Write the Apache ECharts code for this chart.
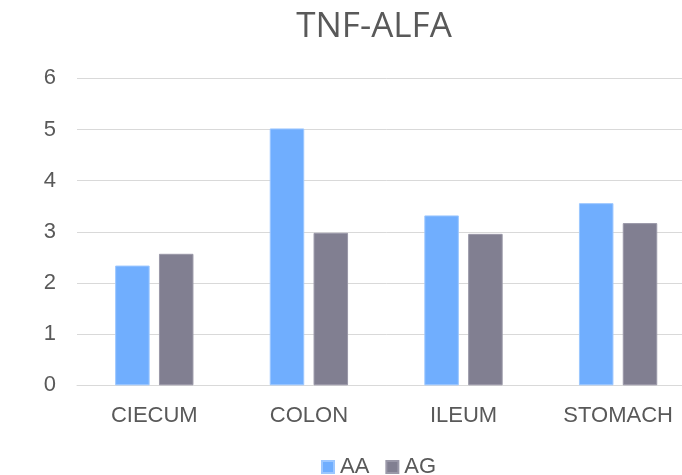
<!DOCTYPE html>
<html>
<head>
<meta charset="utf-8">
<script src="https://cdn.jsdelivr.net/npm/echarts@6/dist/echarts.min.js"></script>
<style>
  html, body { margin: 0; padding: 0; background: #ffffff; overflow: hidden; }
  /* plot area runs past the right edge of the window */
  #chart { width: 720px; height: 475px; }
</style>
</head>
<body>
<div id="chart"></div>
<script>
// TNF-alfa expression by tissue, two genotypes
const categories = ['CIECUM', 'COLON', 'ILEUM', 'STOMACH'];
const seriesNames = ['AA', 'AG'];
const aaValues = [2.34, 5.02, 3.32, 3.56];
const agValues = [2.57, 2.98, 2.96, 3.17];
const yTicks = [0, 1, 2, 3, 4, 5, 6];

const chart = echarts.init(document.getElementById('chart'), null, { renderer: 'canvas' });

const labelFont = 'Liberation Sans, Arial, sans-serif';

chart.setOption({
  backgroundColor: '#ffffff',
  animation: false,
  title: {
    text: 'TNF-ALFA',
    left: 369,
    top: 5,
    textAlign: 'center',
    textStyle: {
      fontFamily: 'Open Sans, sans-serif',
      fontSize: 35,
      fontWeight: 'normal',
      color: '#595959'
    }
  },
  legend: {
    data: seriesNames,
    left: 316,
    top: 451,
    icon: 'rect',
    itemWidth: 12,
    itemHeight: 12,
    itemGap: 16,
    textStyle: {
      fontFamily: labelFont,
      fontSize: 22,
      color: '#595959',
      padding: [0, 0, 0, 1]
    }
  },
  grid: {
    left: 77,
    top: 78.3,
    width: 618.4,
    height: 307
  },
  xAxis: {
    type: 'category',
    data: categories,
    axisLine: { show: true, lineStyle: { color: '#d9d9d9', width: 1 } },
    axisTick: { show: false },
    axisLabel: {
      margin: 20,
      fontFamily: labelFont,
      fontSize: 22,
      color: '#595959'
    }
  },
  yAxis: {
    type: 'value',
    min: yTicks[0],
    max: yTicks[yTicks.length - 1],
    interval: 1,
    axisLine: { show: false },
    axisTick: { show: false },
    splitLine: { lineStyle: { color: '#d9d9d9', width: 1 } },
    axisLabel: {
      margin: 21,
      fontFamily: labelFont,
      fontSize: 22,
      color: '#595959'
    }
  },
  series: [
    {
      name: seriesNames[0],
      type: 'bar',
      data: aaValues,
      barWidth: 34.5,
      barGap: '27%',
      itemStyle: { color: '#70aefe', borderColor: '#9cc7ff', borderWidth: 1 }
    },
    {
      name: seriesNames[1],
      type: 'bar',
      data: agValues,
      barWidth: 34.5,
      itemStyle: { color: '#817f91', borderColor: '#9a98a8', borderWidth: 1 }
    }
  ]
});
</script>
</body>
</html>
